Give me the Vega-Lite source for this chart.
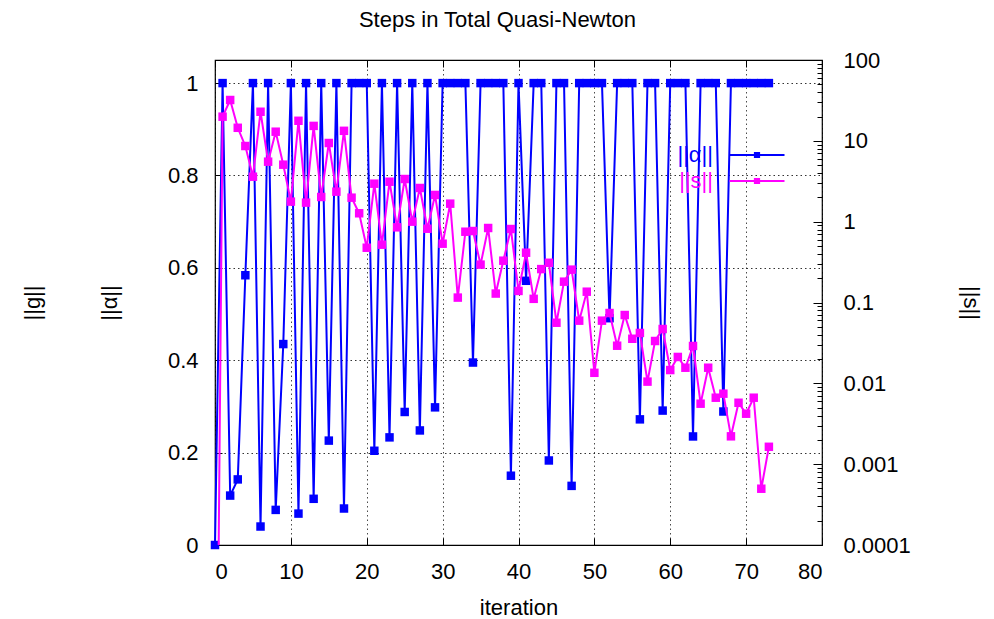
{
  "$schema": "https://vega.github.io/schema/vega-lite/v6.json",
  "autosize": {"type": "none"},
  "width": 607,
  "height": 485,
  "padding": {"left": 215, "top": 60, "right": 172, "bottom": 74},
  "background": "white",
  "config": {
    "font": "Liberation Sans",
    "view": {"stroke": "#000", "strokeWidth": 1.2},
    "axis": {"labelFontSize": 22, "titleFontSize": 22, "titleFontWeight": "normal", "labelColor": "#000", "titleColor": "#000", "tickColor": "#000", "domain": false, "labelFont": "Liberation Sans", "titleFont": "Liberation Sans"}
  },
  "title": {"text": "Steps in Total Quasi-Newton", "fontSize": 22, "fontWeight": "normal", "font": "Liberation Sans", "color": "#000", "anchor": "middle", "dx": -21, "baseline": "alphabetic", "offset": 0},
  "data": {"values": [
    {"i":0,"a":0,"s":1e-9},{"i":1,"a":1,"s":19.9},{"i":2,"a":0.107,"s":32.0},{"i":3,"a":0.142,"s":14.5},{"i":4,"a":0.584,"s":8.63},
    {"i":5,"a":1,"s":3.60},{"i":6,"a":0.04,"s":22.9},{"i":7,"a":1,"s":5.52},{"i":8,"a":0.076,"s":12.97},{"i":9,"a":0.435,"s":5.07},
    {"i":10,"a":1,"s":1.77},{"i":11,"a":0.068,"s":17.7},{"i":12,"a":1,"s":1.72},{"i":13,"a":0.1,"s":15.3},{"i":14,"a":1,"s":2.02},
    {"i":15,"a":0.226,"s":9.40},{"i":16,"a":1,"s":2.35},{"i":17,"a":0.079,"s":13.3},{"i":18,"a":1,"s":1.98},{"i":19,"a":1,"s":1.27},
    {"i":20,"a":1,"s":0.476},{"i":21,"a":0.204,"s":2.95},{"i":22,"a":1,"s":0.519},{"i":23,"a":0.233,"s":3.12},{"i":24,"a":1,"s":0.851},
    {"i":25,"a":0.288,"s":3.37},{"i":26,"a":1,"s":1.0},{"i":27,"a":0.248,"s":2.61},{"i":28,"a":1,"s":0.818},{"i":29,"a":0.298,"s":2.14},
    {"i":30,"a":1,"s":0.534},{"i":31,"a":1,"s":1.67},{"i":32,"a":1,"s":0.115},{"i":33,"a":1,"s":0.751},{"i":34,"a":0.395,"s":0.766},
    {"i":35,"a":1,"s":0.294},{"i":36,"a":1,"s":0.835},{"i":37,"a":1,"s":0.129},{"i":38,"a":1,"s":0.329},{"i":39,"a":0.150,"s":0.811},
    {"i":40,"a":1,"s":0.139},{"i":41,"a":0.572,"s":0.413},{"i":42,"a":1,"s":0.111},{"i":43,"a":1,"s":0.259},{"i":44,"a":0.183,"s":0.310},
    {"i":45,"a":1,"s":0.0562},{"i":46,"a":1,"s":0.181},{"i":47,"a":0.128,"s":0.255},{"i":48,"a":1,"s":0.0596},{"i":49,"a":1,"s":0.136},
    {"i":50,"a":1,"s":0.0135},{"i":51,"a":1,"s":0.0596},{"i":52,"a":0.491,"s":0.0741},{"i":53,"a":1,"s":0.0292},{"i":54,"a":1,"s":0.070},
    {"i":55,"a":1,"s":0.0356},{"i":56,"a":0.272,"s":0.0420},{"i":57,"a":1,"s":0.0105},{"i":58,"a":1,"s":0.0334},{"i":59,"a":0.291,"s":0.0470},
    {"i":60,"a":1,"s":0.0146},{"i":61,"a":1,"s":0.0212},{"i":62,"a":1,"s":0.0156},{"i":63,"a":0.235,"s":0.0290},{"i":64,"a":1,"s":0.0056},
    {"i":65,"a":1,"s":0.0156},{"i":66,"a":1,"s":0.00664},{"i":67,"a":0.289,"s":0.00745},{"i":68,"a":1,"s":0.00221},{"i":69,"a":1,"s":0.00575},
    {"i":70,"a":1,"s":0.00421},{"i":71,"a":1,"s":0.00664},{"i":72,"a":1,"s":0.000497},{"i":73,"a":1,"s":0.00164}
  ]},
  "resolve": {"scale": {"y": "independent"}, "axis": {"y": "independent", "x": "independent"}},
  "layer": [
    {
      "mark": {"type": "line", "strokeWidth": 2, "clip": false, "point": {"shape": "square", "size": 72, "filled": true, "opacity": 1}},
      "encoding": {
        "x": {"field": "i", "type": "quantitative", "scale": {"domain": [0, 80], "nice": false},
              "axis": {"orient": "bottom", "values": [0,10,20,30,40,50,60,70,80], "format": "d", "title": "iteration", "titlePadding": 15,
                       "grid": true, "gridColor": "#000", "gridDash": [1.5, 3], "gridOpacity": 0.7, "gridWidth": 1, "tickSize": -7, "labelPadding": 23}},
        "y": {"field": "a", "type": "quantitative", "scale": {"domain": [0, 1.05], "nice": false, "zero": false},
              "axis": {"orient": "left", "values": [0,0.2,0.4,0.6,0.8,1], "format": "~g", "title": "||α||", "titlePadding": 46,
                       "grid": true, "gridColor": "#000", "gridDash": [1.5, 3], "gridOpacity": 0.8, "gridWidth": 1, "tickSize": -7, "labelPadding": 24}},
        "color": {"datum": "||α||", "type": "nominal",
                  "scale": {"domain": ["||α||", "||s||"], "range": ["#0000ff", "#ff00ff"]},
                  "legend": {"orient": "none", "legendX": 531, "legendY": 84, "title": null, "padding": 0,
                             "symbolType": "M-5.5,0H5.5M-0.42,-0.42H0.42V0.42H-0.42Z", "symbolSize": 100, "symbolStrokeWidth": 2,
                             "labelFontSize": 22, "labelFont": "Liberation Sans", "rowPadding": 4,
                             "encode": {
                               "symbols": {"update": {"fill": {"scale": "color", "field": "value"}, "stroke": {"scale": "color", "field": "value"}, "strokeWidth": {"value": 2}, "opacity": {"value": 1}}},
                               "labels": {"update": {"x": {"value": -33}, "align": {"value": "right"}, "fill": {"scale": "color", "field": "value"}}}
                             }}}
      }
    },
    {
      "mark": {"type": "line", "strokeWidth": 2, "clip": true, "point": {"shape": "square", "size": 72, "filled": true, "opacity": 1}},
      "encoding": {
        "x": {"field": "i", "type": "quantitative", "axis": null},
        "y": {"field": "s", "type": "quantitative", "scale": {"type": "log", "domain": [0.0001, 100], "nice": false},
              "axis": {"orient": "right", "format": "~g", "title": "||s||", "titlePadding": 48, "grid": false,
                       "values": [0.0001,0.0002,0.0003,0.0004,0.0005,0.0006,0.0007,0.0008,0.0009,
                                  0.001,0.002,0.003,0.004,0.005,0.006,0.007,0.008,0.009,
                                  0.01,0.02,0.03,0.04,0.05,0.06,0.07,0.08,0.09,
                                  0.1,0.2,0.3,0.4,0.5,0.6,0.7,0.8,0.9,
                                  1,2,3,4,5,6,7,8,9,
                                  10,20,30,40,50,60,70,80,90,100],
                       "labelExpr": "abs(log(datum.value)/LN10 - round(log(datum.value)/LN10)) < 0.001 ? datum.label : ''",
                       "tickSize": {"condition": {"test": "abs(log(datum.value)/LN10 - round(log(datum.value)/LN10)) < 0.001", "value": -9}, "value": -5},
                       "labelPadding": 30}},
        "color": {"datum": "||s||", "type": "nominal"}
      }
    },
    {
      "mark": {"type": "point", "opacity": 0},
      "encoding": {
        "x": {"field": "i", "type": "quantitative",
              "axis": {"orient": "top", "values": [0,10,20,30,40,50,60,70,80], "labels": false, "title": null, "grid": false, "tickSize": -7}},
        "y": {"field": "a", "type": "quantitative", "scale": {"domain": [0, 1.05], "nice": false},
              "axis": {"orient": "left", "labels": false, "ticks": false, "grid": false, "title": "||g||", "titlePadding": 171}}
      }
    }
  ]
}
